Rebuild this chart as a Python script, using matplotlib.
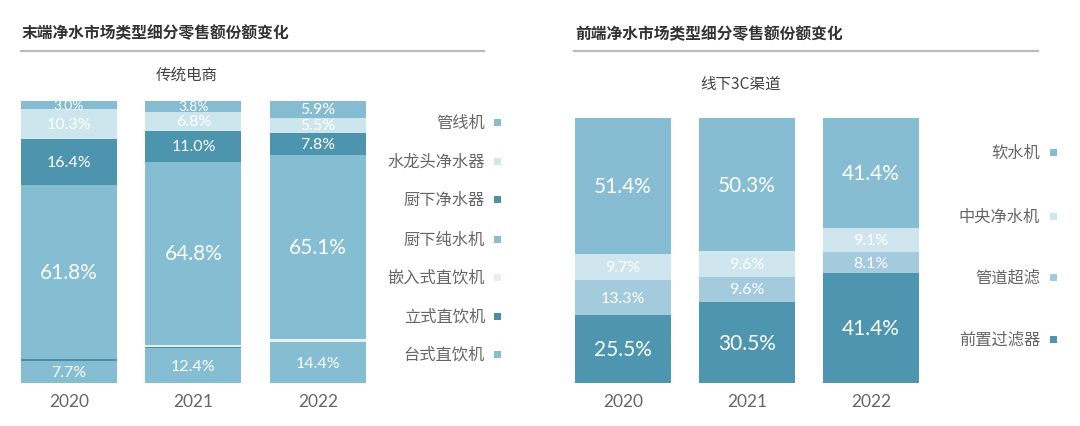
import matplotlib
matplotlib.use("Agg")
import matplotlib.pyplot as plt
from matplotlib.patches import Rectangle

plt.rcParams['font.family'] = ['Noto Sans CJK SC', 'DejaVu Sans']

# ---------------- data ----------------
years = ["2020", "2021", "2022"]

left_title = "末端净水市场类型细分零售额份额变化"
left_subtitle = "传统电商"
left_series = ["台式直饮机", "立式直饮机", "嵌入式直饮机", "厨下纯水机", "厨下净水器", "水龙头净水器", "管线机"]
taishi = [7.7, 12.4, 14.4]
lishi = [0.8, 0.5, 0.3]
qianrushi = [0.0, 0.7, 1.0]
chuxia_chunshui = [61.8, 64.8, 65.1]
chuxia_jingshui = [16.4, 11.0, 7.8]
shuilongtou = [10.3, 6.8, 5.5]
guanxian = [3.0, 3.8, 5.9]
left_values = [taishi, lishi, qianrushi, chuxia_chunshui, chuxia_jingshui, shuilongtou, guanxian]
left_colors = ["#85bdd2", "#4a8ea8", "#e6f1f4", "#85bdd2", "#4d94ae", "#cde6ee", "#85bcd1"]
left_legend_colors = ["#8dbdd0", "#4a8ea0", "#e5eef0", "#8bbdd0", "#4f8fa5", "#cfe8ea", "#8bbccd"]

right_title = "前端净水市场类型细分零售额份额变化"
right_subtitle = "线下3C渠道"
right_series = ["前置过滤器", "管道超滤", "中央净水机", "软水机"]
qianzhi = [25.5, 30.5, 41.4]
guandao = [13.3, 9.6, 8.1]
zhongyang = [9.7, 9.6, 9.1]
ruanshui = [51.4, 50.3, 41.4]
right_values = [qianzhi, guandao, zhongyang, ruanshui]
right_colors = ["#4e95b0", "#a4cade", "#cfe6ee", "#86bdd2"]

W, H = 1080, 427
fig = plt.figure(figsize=(W / 100, H / 100), dpi=100)
fig.patch.set_facecolor("white")


def ax_px(x0, y_top, w, h):
    return fig.add_axes([x0 / W, (H - y_top - h) / H, w / W, h / H])


def draw_stack(ax, values, colors, bar_w):
    x = list(range(len(years)))
    bottoms = [0.0] * len(years)
    for vals, col in zip(values, colors):
        ax.bar(x, vals, bottom=bottoms, width=bar_w, color=col, linewidth=0)
        for i, v in enumerate(vals):
            if v >= 2:
                fs = 15 if v >= 20 else (10 if v < 5 else 11.5)
                ax.text(i, bottoms[i] + v / 2, f"{v:.1f}%", ha="center", va="center",
                        color="white", fontsize=fs, family=["Lato", "DejaVu Sans"])
        bottoms = [b + v for b, v in zip(bottoms, vals)]
    ax.set_xlim(-0.5, len(years) - 0.5)
    ax.set_ylim(0, max(bottoms))
    ax.axis("off")


axL = ax_px(6.75, 102, 373.5, 282)
draw_stack(axL, left_values, left_colors, 96 / 124.5)
axR = ax_px(561, 119, 372, 265)
draw_stack(axR, right_values, right_colors, 96 / 124)

# overlay in pixel coordinates
ov = fig.add_axes([0, 0, 1, 1])
ov.set_xlim(0, W)
ov.set_ylim(H, 0)
ov.axis("off")
ov.patch.set_alpha(0)

ov.text(22, 33, left_title, fontsize=11.3, fontweight="bold", color="#333333", va="center", ha="left")
ov.text(575, 34, right_title, fontsize=11.3, fontweight="bold", color="#333333", va="center", ha="left")
ov.plot([21, 484], [52, 52], color="#bbbbbb", lw=1.6)
ov.plot([574, 1038], [52, 52], color="#bbbbbb", lw=1.6)
ov.text(187, 75, left_subtitle, fontsize=11.2, color="#444444", va="center", ha="center")
ov.text(741, 84, right_subtitle, fontsize=11.2, color="#444444", va="center", ha="center")

for i, y in enumerate(years):
    ov.text(69 + 124.5 * i, 402, y, fontsize=12.5, color="#666666", ha="center", va="center",
            family=["Lato", "DejaVu Sans"])
    ov.text(623 + 124 * i, 402, y, fontsize=12.5, color="#666666", ha="center", va="center",
            family=["Lato", "DejaVu Sans"])

left_leg_y = [355, 317, 278, 240, 200, 162, 123]
for name, col, y in zip(left_series, left_legend_colors, left_leg_y):
    ov.text(485, y, name, fontsize=11.7, color="#666666", ha="right", va="center")
    ov.add_patch(Rectangle((493.5, y - 3.5), 7, 7, color=col, lw=0))

right_leg_y = [340, 278, 217, 153]
for name, col, y in zip(right_series, right_colors, right_leg_y):
    ov.text(1040, y, name, fontsize=11.7, color="#666666", ha="right", va="center")
    ov.add_patch(Rectangle((1049.5, y - 3.5), 7, 7, color=col, lw=0))

fig.savefig("out.png", dpi=100, facecolor="white")
